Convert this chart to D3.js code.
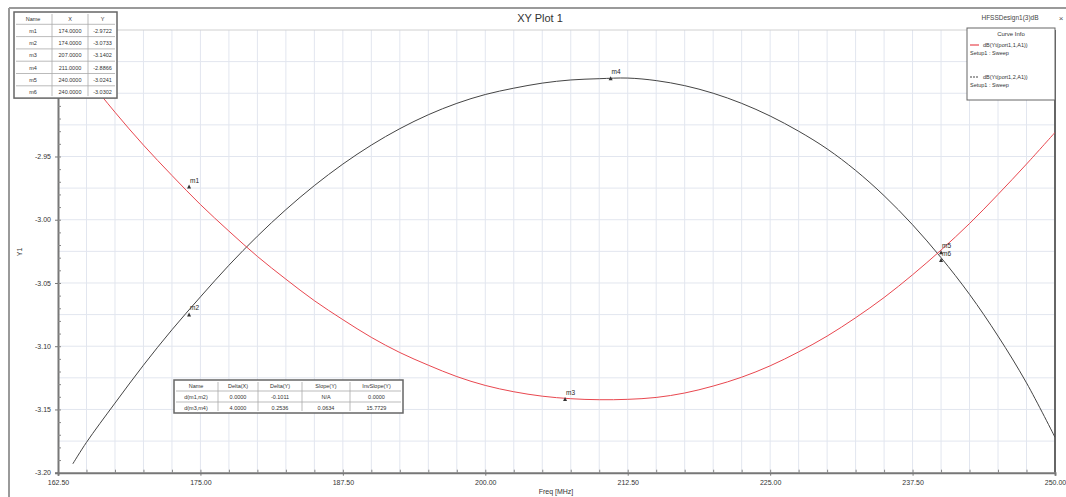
<!DOCTYPE html>
<html><head><meta charset="utf-8">
<script src="https://cdn.jsdelivr.net/npm/d3@7/dist/d3.min.js"></script>
<style>
html,body{margin:0;padding:0;background:#fff;}
svg{display:block;font-family:"Liberation Sans",Arial,sans-serif;}
</style></head>
<body>
<svg id="c" width="1066" height="497"></svg>
<script>
// ---------------- data ----------------
const freqs = [163.8,165,167.5,170,172.5,175,177.5,180,182.5,185,187.5,190,192.5,195,197.5,200,202.5,205,207.5,210,212.5,215,217.5,220,222.5,225,227.5,230,232.5,235,237.5,240,242.5,245,247.5,250];
const redDb = [-2.872,-2.887,-2.915,-2.941,-2.965,-2.988,-3.009,-3.029,-3.047,-3.064,-3.079,-3.093,-3.105,-3.115,-3.124,-3.131,-3.136,-3.1395,-3.1415,-3.1423,-3.142,-3.1405,-3.137,-3.1315,-3.1245,-3.1155,-3.1045,-3.092,-3.0775,-3.0615,-3.0435,-3.024,-3.003,-2.980,-2.956,-2.931];
const blackDb = [-3.193,-3.176,-3.145,-3.115,-3.087,-3.061,-3.036,-3.013,-2.992,-2.973,-2.956,-2.941,-2.928,-2.917,-2.908,-2.901,-2.896,-2.892,-2.8895,-2.8885,-2.888,-2.890,-2.894,-2.900,-2.908,-2.918,-2.930,-2.944,-2.961,-2.981,-3.004,-3.030,-3.059,-3.092,-3.129,-3.172];

const markerNames = ["m1","m2","m3","m4","m5","m6"];
const markerX = [174.0,174.0,207.0,211.0,240.0,240.0];
const markerY = [-2.9722,-3.0733,-3.1402,-2.8866,-3.0241,-3.0302];
const markerXText = ["174.0000","174.0000","207.0000","211.0000","240.0000","240.0000"];
const markerYText = ["-2.9722","-3.0733","-3.1402","-2.8866","-3.0241","-3.0302"];

const deltaHeaders = ["Name","Delta(X)","Delta(Y)","Slope(Y)","InvSlope(Y)"];
const deltaRow1 = ["d(m1,m2)","0.0000","-0.1011","N/A","0.0000"];
const deltaRow2 = ["d(m3,m4)","4.0000","0.2536","0.0634","15.7729"];

const xTicks = [162.5,175,187.5,200,212.5,225,237.5,250];
const xTickLabels = ["162.50","175.00","187.50","200.00","212.50","225.00","237.50","250.00"];
const yTicks = [-3.20,-3.15,-3.10,-3.05,-3.00,-2.95,-2.90];
const yTickLabels = ["-3.20","-3.15","-3.10","-3.05","-3.00","-2.95","-2.90"];

const seriesNames = ["dB(Yt(port1,1,A1))","dB(Yt(port1,2,A1))"];
const seriesSetup = ["Setup1 : Sweep","Setup1 : Sweep"];
const seriesColors = ["#e8474f","#444444"];

// ---------------- layout ----------------
const svg = d3.select("#c");
const L = 58, R = 1055, T = 30, B = 472.7;
const x = d3.scaleLinear().domain([162.5,250]).range([L,R]);
const y = d3.scaleLinear().domain([-3.20,-2.85]).range([B,T]);

// outer frame
svg.append("line").attr("x1",9).attr("x2",1066).attr("y1",8).attr("y2",8).attr("stroke","#9a9a9a").attr("stroke-width",2);
svg.append("line").attr("x1",9).attr("x2",9).attr("y1",8).attr("y2",497).attr("stroke","#9a9a9a").attr("stroke-width",2);

// title
svg.append("text").attr("x",540).attr("y",22).attr("text-anchor","middle").attr("font-size",11).attr("fill","#333").text("XY Plot 1");
svg.append("text").attr("x",1010).attr("y",20).attr("text-anchor","middle").attr("font-size",6.5).attr("fill","#444").text("HFSSDesign1(3)dB");
svg.append("text").attr("x",1061).attr("y",21).attr("text-anchor","middle").attr("font-size",8).attr("fill","#555").text("×");

// grid
const g = svg.append("g");
const vGrid = d3.range(165,250,2.5);
g.selectAll("line.vg").data(vGrid).join("line").attr("class","vg")
  .attr("x1",d=>x(d)).attr("x2",d=>x(d)).attr("y1",T).attr("y2",B)
  .attr("stroke","#e2e6ef").attr("stroke-width",1);
const hGrid = d3.range(-3.175,-2.85,0.025);
g.selectAll("line.hg").data(hGrid).join("line").attr("class","hg")
  .attr("x1",L).attr("x2",R).attr("y1",d=>y(d)).attr("y2",d=>y(d))
  .attr("stroke","#e2e6ef").attr("stroke-width",1);

// plot border
svg.append("line").attr("x1",L).attr("x2",R).attr("y1",T).attr("y2",T).attr("stroke","#d0d0d0").attr("stroke-width",1);
svg.append("line").attr("x1",R).attr("x2",R).attr("y1",T).attr("y2",B).attr("stroke","#666").attr("stroke-width",2);

// axes
const xAxis = d3.axisBottom(x).tickValues(xTicks).tickFormat((d,i)=>xTickLabels[i]).tickSize(3).tickPadding(4);
const xa = svg.append("g").attr("transform",`translate(0,${B})`).call(xAxis);
xa.select(".domain").attr("stroke","#777").attr("stroke-width",2);
xa.selectAll("text").attr("font-size",7).attr("fill","#333").attr("font-family","Liberation Sans, Arial");
xa.selectAll(".tick line").attr("stroke","#777");
const xMinor = d3.axisBottom(x).tickValues(d3.range(165,250,2.5)).tickFormat("").tickSize(-3);
const xm = svg.append("g").attr("transform",`translate(0,${B})`).call(xMinor);
xm.select(".domain").remove(); xm.selectAll("line").attr("stroke","#888");

const yAxis = d3.axisLeft(y).tickValues(yTicks).tickFormat((d,i)=>yTickLabels[i]).tickSize(3).tickPadding(4);
const ya = svg.append("g").attr("transform",`translate(${L},0)`).call(yAxis);
ya.select(".domain").attr("stroke","#777").attr("stroke-width",2);
ya.selectAll("text").attr("font-size",7).attr("fill","#333").attr("font-family","Liberation Sans, Arial");
ya.selectAll(".tick line").attr("stroke","#777");
const yMinor = d3.axisLeft(y).tickValues(d3.range(-3.19,-2.85,0.01)).tickFormat("").tickSize(-3);
const ym = svg.append("g").attr("transform",`translate(${L},0)`).call(yMinor);
ym.select(".domain").remove(); ym.selectAll("line").attr("stroke","#888");

svg.append("text").attr("x",556).attr("y",494).attr("text-anchor","middle").attr("font-size",7).attr("fill","#333").text("Freq [MHz]");
svg.append("text").attr("transform","translate(22,252) rotate(-90)").attr("text-anchor","middle").attr("font-size",7).attr("fill","#333").text("Y1");

// curves
svg.append("clipPath").attr("id","clip").append("rect").attr("x",L).attr("y",T).attr("width",R-L).attr("height",B-T);
const line = d3.line().x((d,i)=>x(freqs[i])).y(d=>y(d)).curve(d3.curveCatmullRom.alpha(0.5));
const cg = svg.append("g").attr("clip-path","url(#clip)");
cg.append("path").attr("d",line(blackDb)).attr("fill","none").attr("stroke",seriesColors[1]).attr("stroke-width",1);
cg.append("path").attr("d",line(redDb)).attr("fill","none").attr("stroke",seriesColors[0]).attr("stroke-width",1);

// markers
const mk = svg.append("g");
markerNames.forEach((n,i)=>{
  const px = x(markerX[i]), py = y(markerY[i]);
  mk.append("path").attr("d",`M${px},${py} l-2,4 l4,0 z`).attr("fill","#333");
  mk.append("text").attr("x",px+1).attr("y",py-2).attr("font-size",6.5).attr("fill","#222").text(n);
});

// marker table
const mt = svg.append("g");
const mtX = [14,52,88,117], mtY0 = 12, mtRH = 12.3;
const mRows = [["Name","X","Y"]].concat(markerNames.map((n,i)=>[n,markerXText[i],markerYText[i]]));
mt.append("rect").attr("x",mtX[0]).attr("y",mtY0).attr("width",mtX[3]-mtX[0]).attr("height",mRows.length*mtRH).attr("fill","#fff").attr("stroke","#666").attr("stroke-width",1.5);
mRows.forEach((r,ri)=>{
  if(ri>0) mt.append("line").attr("x1",mtX[0]+2).attr("x2",mtX[3]-2).attr("y1",mtY0+ri*mtRH).attr("y2",mtY0+ri*mtRH).attr("stroke","#aaa").attr("stroke-width",0.8);
  r.forEach((c,ci)=>{
    mt.append("text").attr("x",(mtX[ci]+mtX[ci+1])/2).attr("y",mtY0+ri*mtRH+8.5).attr("text-anchor","middle").attr("font-size",5.5).attr("fill","#333").text(c);
  });
});
[1,2].forEach(ci=>mt.append("line").attr("x1",mtX[ci]).attr("x2",mtX[ci]).attr("y1",mtY0+2).attr("y2",mtY0+mRows.length*mtRH-2).attr("stroke","#aaa").attr("stroke-width",0.8));

// delta table
const dt = svg.append("g");
const dtX = [174,218,258,302,350,403], dtY0 = 380, dtRH = 11;
const dRows = [deltaHeaders, deltaRow1, deltaRow2];
dt.append("rect").attr("x",dtX[0]).attr("y",dtY0).attr("width",dtX[5]-dtX[0]).attr("height",dRows.length*dtRH).attr("fill","#fff").attr("stroke","#666").attr("stroke-width",1.5);
dRows.forEach((r,ri)=>{
  if(ri>0) dt.append("line").attr("x1",dtX[0]+2).attr("x2",dtX[5]-2).attr("y1",dtY0+ri*dtRH).attr("y2",dtY0+ri*dtRH).attr("stroke","#aaa").attr("stroke-width",0.8);
  r.forEach((c,ci)=>{
    dt.append("text").attr("x",(dtX[ci]+dtX[ci+1])/2).attr("y",dtY0+ri*dtRH+7.8).attr("text-anchor","middle").attr("font-size",5.5).attr("fill","#333").text(c);
  });
});
[1,2,3,4].forEach(ci=>dt.append("line").attr("x1",dtX[ci]).attr("x2",dtX[ci]).attr("y1",dtY0+2).attr("y2",dtY0+dRows.length*dtRH-2).attr("stroke","#aaa").attr("stroke-width",0.8));

// legend
const lg = svg.append("g");
lg.append("rect").attr("x",967).attr("y",28).attr("width",88).attr("height",72).attr("fill","#fff").attr("stroke","#666").attr("stroke-width",1);
lg.append("text").attr("x",1011).attr("y",36).attr("text-anchor","middle").attr("font-size",6).attr("fill","#333").text("Curve Info");
const legY = [47,79];
seriesNames.forEach((n,i)=>{
  lg.append("line").attr("x1",970).attr("x2",979).attr("y1",legY[i]-2).attr("y2",legY[i]-2).attr("stroke",seriesColors[i]).attr("stroke-width",1.2)
    .attr("stroke-dasharray", i===1 ? "2,1" : null);
  lg.append("text").attr("x",983).attr("y",legY[i]).attr("font-size",5.5).attr("fill","#333").text(n);
  lg.append("text").attr("x",970).attr("y",legY[i]+8).attr("font-size",5.5).attr("fill","#333").text(seriesSetup[i]);
});
</script>
</body></html>
